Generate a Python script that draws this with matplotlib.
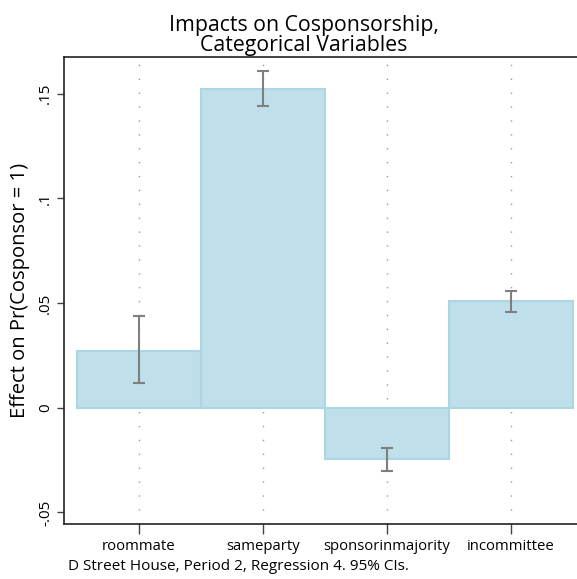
import numpy as np
import matplotlib.pyplot as plt

plt.rcParams['font.family'] = ['Open Sans', 'DejaVu Sans']

# Data
categories = ['roommate', 'sameparty', 'sponsorinmajority', 'incommittee']
effects = [0.0272, 0.1524, -0.0244, 0.0508]
ci_low = [0.0120, 0.1443, -0.0300, 0.0459]
ci_high = [0.0440, 0.1610, -0.0190, 0.0559]
yticks = [-0.05, 0, 0.05, 0.1, 0.15]
yticklabels = ['-.05', '0', '.05', '.1', '.15']

x = np.arange(1, len(categories) + 1)
eff = np.array(effects)
err = np.array([eff - np.array(ci_low), np.array(ci_high) - eff])

fig = plt.figure(figsize=(5.77, 5.79), dpi=100)
ax = fig.add_axes([64 / 577, 1 - 524 / 579, (585 - 64) / 577, (524 - 57) / 579])

for xi in x:
    ax.axvline(xi, color='#9a9a9a', linestyle=(0, (1, 9)), linewidth=1, zorder=0)

ax.bar(x, eff, width=1.0, color='#bfe0ea', edgecolor='#acd6e4', linewidth=1.5, zorder=2)
ax.errorbar(x, eff, yerr=err, fmt='none', ecolor='#7f7f7f', elinewidth=1.5,
            capsize=4, capthick=1.5, zorder=3)

ax.set_xlim(0.395, 4.6)
ax.set_ylim(-0.0555, 0.1675)
ax.set_xticks(x)
ax.set_xticklabels(categories, fontsize=10.7)
ax.set_yticks(yticks)
ax.set_yticklabels(yticklabels, fontsize=11, rotation=90, va='center')
ax.tick_params(axis='x', length=7, width=1, color='#444444', pad=4)
ax.tick_params(axis='y', length=5, width=1, color='#444444', pad=3)
ax.spines['right'].set_visible(False)
for s in ['top', 'left', 'bottom']:
    ax.spines[s].set_linewidth(1.2)
    ax.spines[s].set_color('#222222')

ax.set_ylabel('Effect on Pr(Cosponsor = 1)', fontsize=14.5, labelpad=6)
ax.set_title('Impacts on Cosponsorship,\nCategorical Variables', fontsize=15.3,
             linespacing=0.95, pad=4, x=(304 - 64) / (585 - 64))
fig.text(68 / 577, 1 - 566 / 579, 'D Street House, Period 2, Regression 4. 95% CIs.',
         fontsize=11, va='center', ha='left')

fig.savefig('out.png', dpi=100)
